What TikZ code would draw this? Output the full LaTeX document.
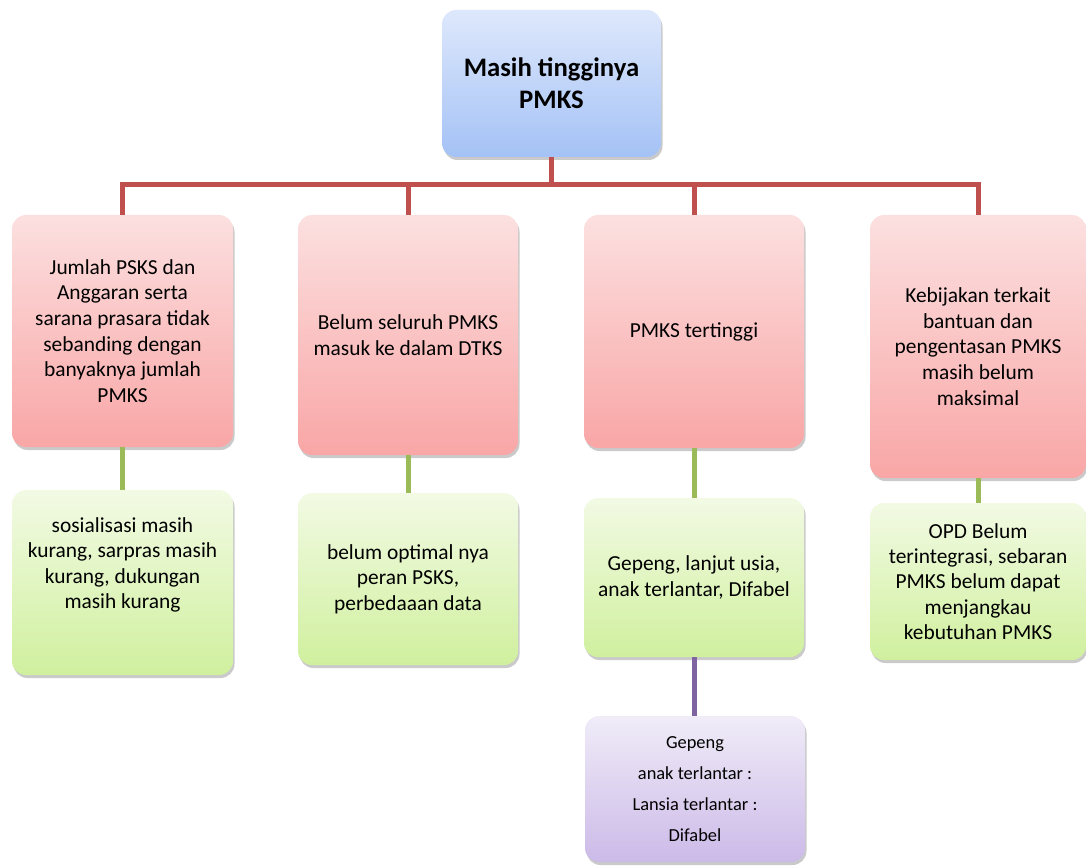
\documentclass[tikz,border=0pt]{standalone}
\usepackage{fontspec}
\setmainfont{Carlito}
\usetikzlibrary{shadows}
\begin{document}
\begin{tikzpicture}[x=1pt,y=-1pt,
  box/.style={rounded corners=14pt, inner sep=0pt, align=center,
    drop shadow={shadow xshift=1.5pt, shadow yshift=-3pt, opacity=0.35, fill=black!60}},
  topbox/.style={box, top color={rgb,255:red,222;green,232;blue,252}, bottom color={rgb,255:red,164;green,194;blue,246},
    font=\fontsize{26.7}{32}\selectfont\bfseries},
  redbox/.style={box, top color={rgb,255:red,252;green,224;blue,224}, bottom color={rgb,255:red,249;green,166;blue,166},
    font=\fontsize{21.4}{25.6}\selectfont},
  greenbox/.style={box, top color={rgb,255:red,242;green,250;blue,228}, bottom color={rgb,255:red,208;green,240;blue,158},
    font=\fontsize{21.4}{25.4}\selectfont},
  purplebox/.style={box, top color={rgb,255:red,240;green,236;blue,248}, bottom color={rgb,255:red,204;green,186;blue,232},
    font=\fontsize{18.4}{31}\selectfont},
  redline/.style={line width=5pt, draw={rgb,255:red,192;green,80;blue,77}},
  greenline/.style={line width=5pt, draw={rgb,255:red,155;green,187;blue,89}},
  purpleline/.style={line width=5pt, draw={rgb,255:red,128;green,100;blue,162}}
]
\useasboundingbox (0,0) rectangle (1086,866);

% top
\node[topbox, minimum width=219pt, minimum height=147pt] (top) at (551.5,83.5) {Masih tingginya\\PMKS};

% level 1
\node[redbox, minimum width=221pt, minimum height=232pt] (r1) at (122.5,331) {Jumlah PSKS dan\\Anggaran serta\\sarana prasara tidak\\sebanding dengan\\banyaknya jumlah\\PMKS};
\node[redbox, minimum width=220pt, minimum height=240pt] (r2) at (408,335) {Belum seluruh PMKS\\masuk ke dalam DTKS};
\node[redbox, minimum width=220pt, minimum height=233pt] (r3) at (694,331.5) {PMKS tertinggi};
\node[redbox, minimum width=216pt, minimum height=263pt] (r4) at (978,346.5) {Kebijakan terkait\\bantuan dan\\pengentasan PMKS\\masih belum\\maksimal};

% level 2
\node[greenbox, minimum width=221pt, minimum height=185pt] (g1) at (122.5,582.5) {};
\node[font=\fontsize{21.4}{25.4}\selectfont, align=center, inner sep=0pt] (g1t) at (122.5,565) {sosialisasi masih\\kurang, sarpras masih\\kurang, dukungan\\masih kurang};
\node[greenbox, minimum width=220pt, minimum height=172pt] (g2) at (408,579) {belum optimal nya\\peran PSKS,\\perbedaaan data};
\node[greenbox, minimum width=220pt, minimum height=159pt] (g3) at (694,577.5) {Gepeng, lanjut usia,\\anak terlantar, Difabel};
\node[greenbox, minimum width=216pt, minimum height=157pt] (g4) at (978,581.5) {OPD Belum\\terintegrasi, sebaran\\PMKS belum dapat\\menjangkau\\kebutuhan PMKS};

% level 3
\node[purplebox, minimum width=220pt, minimum height=146pt] (p1) at (695,789) {Gepeng\\anak terlantar :\\Lansia terlantar :\\Difabel};

% connectors
\coordinate (bus) at (551.5,185);
\draw[redline] (top.south) -- (bus);
\draw[redline] (r1.north) |- (bus) -| (r4.north);
\draw[redline] (r2.north) -- (r2.north |- bus);
\draw[redline] (r3.north) -- (r3.north |- bus);

\draw[greenline] (r1.south) -- (g1.north);
\draw[greenline] (r2.south) -- (g2.north);
\draw[greenline] (r3.south) -- (g3.north);
\draw[greenline] (r4.south) -- (r4.south |- g4.north);

\draw[purpleline] (g3.south) -- (g3.south |- p1.north);
\end{tikzpicture}
\end{document}
